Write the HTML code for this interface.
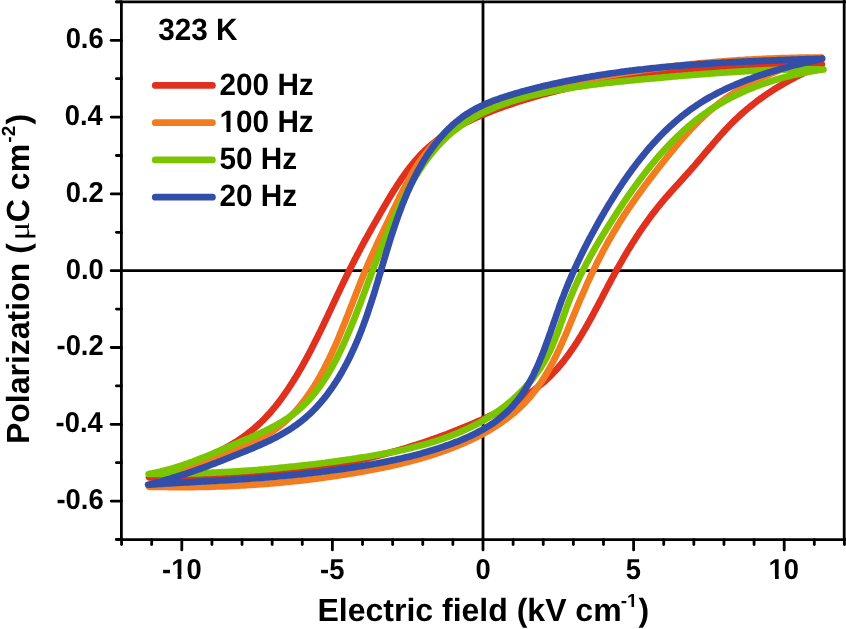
<!DOCTYPE html>
<html><head><meta charset="utf-8"><style>
html,body{margin:0;padding:0;background:#fff;}
body{width:846px;height:629px;overflow:hidden;}
svg{display:block;will-change:transform;font-family:"Liberation Sans",sans-serif;font-weight:bold;text-rendering:geometricPrecision;}
</style></head><body>
<svg width="846" height="629" viewBox="0 0 846 629">
<rect width="846" height="629" fill="#fff"/>
<g stroke="#000" stroke-width="2.8" stroke-linecap="round" fill="none">
<line x1="116.56" y1="1.90" x2="848" y2="1.90"/>
<line x1="121.4" y1="1.90" x2="121.4" y2="539.6"/>
<line x1="116.56" y1="539.6" x2="848" y2="539.6"/>
<line x1="844.2" y1="-2" x2="844.2" y2="539.6"/>
<line x1="121.4" y1="270.7" x2="844" y2="270.7"/>
<line x1="483.0" y1="1.90" x2="483.0" y2="539.6"/>
<line x1="116.40" y1="539.50" x2="121.4" y2="539.50"/>
<line x1="111.20" y1="501.10" x2="121.4" y2="501.10"/>
<line x1="116.40" y1="462.70" x2="121.4" y2="462.70"/>
<line x1="111.20" y1="424.30" x2="121.4" y2="424.30"/>
<line x1="116.40" y1="385.90" x2="121.4" y2="385.90"/>
<line x1="111.20" y1="347.50" x2="121.4" y2="347.50"/>
<line x1="116.40" y1="309.10" x2="121.4" y2="309.10"/>
<line x1="111.20" y1="270.70" x2="121.4" y2="270.70"/>
<line x1="116.40" y1="232.30" x2="121.4" y2="232.30"/>
<line x1="111.20" y1="193.90" x2="121.4" y2="193.90"/>
<line x1="116.40" y1="155.50" x2="121.4" y2="155.50"/>
<line x1="111.20" y1="117.10" x2="121.4" y2="117.10"/>
<line x1="116.40" y1="78.70" x2="121.4" y2="78.70"/>
<line x1="111.20" y1="40.30" x2="121.4" y2="40.30"/>
<line x1="116.40" y1="1.90" x2="121.4" y2="1.90"/>
<line x1="121.56" y1="539.6" x2="121.56" y2="544.60"/>
<line x1="151.68" y1="539.6" x2="151.68" y2="544.60"/>
<line x1="181.80" y1="539.6" x2="181.80" y2="549.90"/>
<line x1="211.92" y1="539.6" x2="211.92" y2="544.60"/>
<line x1="242.04" y1="539.6" x2="242.04" y2="544.60"/>
<line x1="272.16" y1="539.6" x2="272.16" y2="544.60"/>
<line x1="302.28" y1="539.6" x2="302.28" y2="544.60"/>
<line x1="332.40" y1="539.6" x2="332.40" y2="549.90"/>
<line x1="362.52" y1="539.6" x2="362.52" y2="544.60"/>
<line x1="392.64" y1="539.6" x2="392.64" y2="544.60"/>
<line x1="422.76" y1="539.6" x2="422.76" y2="544.60"/>
<line x1="452.88" y1="539.6" x2="452.88" y2="544.60"/>
<line x1="483.00" y1="539.6" x2="483.00" y2="549.90"/>
<line x1="513.12" y1="539.6" x2="513.12" y2="544.60"/>
<line x1="543.24" y1="539.6" x2="543.24" y2="544.60"/>
<line x1="573.36" y1="539.6" x2="573.36" y2="544.60"/>
<line x1="603.48" y1="539.6" x2="603.48" y2="544.60"/>
<line x1="633.60" y1="539.6" x2="633.60" y2="549.90"/>
<line x1="663.72" y1="539.6" x2="663.72" y2="544.60"/>
<line x1="693.84" y1="539.6" x2="693.84" y2="544.60"/>
<line x1="723.96" y1="539.6" x2="723.96" y2="544.60"/>
<line x1="754.08" y1="539.6" x2="754.08" y2="544.60"/>
<line x1="784.20" y1="539.6" x2="784.20" y2="549.90"/>
<line x1="814.32" y1="539.6" x2="814.32" y2="544.60"/>
<line x1="844.44" y1="539.6" x2="844.44" y2="544.60"/>
</g>
<path d="M821.8 64.3 L819.8 64.3 L817.8 64.3 L815.8 64.4 L813.8 64.4 L811.8 64.4 L809.8 64.4 L807.8 64.5 L805.8 64.5 L803.8 64.5 L801.9 64.6 L799.9 64.6 L797.9 64.6 L795.9 64.7 L793.9 64.7 L791.9 64.8 L789.9 64.8 L787.9 64.8 L785.9 64.9 L783.9 64.9 L781.9 65.0 L779.9 65.0 L777.9 65.1 L775.9 65.2 L773.9 65.2 L771.9 65.3 L769.9 65.3 L767.9 65.4 L765.9 65.5 L763.9 65.5 L761.9 65.6 L759.9 65.7 L757.9 65.7 L755.9 65.8 L753.9 65.9 L751.9 66.0 L749.9 66.1 L747.9 66.1 L746.0 66.2 L744.0 66.3 L742.0 66.4 L740.0 66.5 L738.0 66.6 L736.0 66.7 L734.0 66.8 L732.0 66.9 L730.0 67.0 L728.0 67.1 L726.0 67.3 L724.0 67.4 L722.0 67.5 L720.0 67.6 L718.0 67.7 L716.0 67.9 L714.0 68.0 L712.0 68.1 L710.1 68.3 L708.1 68.4 L706.1 68.6 L704.1 68.7 L702.1 68.9 L700.1 69.0 L698.1 69.2 L696.1 69.3 L694.1 69.5 L692.1 69.7 L690.1 69.8 L688.2 70.0 L686.2 70.2 L684.2 70.4 L682.2 70.5 L680.2 70.7 L678.2 70.9 L676.2 71.1 L674.2 71.3 L672.3 71.5 L670.3 71.7 L668.3 71.9 L666.3 72.1 L664.3 72.4 L662.3 72.6 L660.4 72.8 L658.4 73.0 L656.4 73.3 L654.4 73.5 L652.4 73.7 L650.5 74.0 L648.5 74.2 L646.5 74.5 L644.5 74.7 L642.5 75.0 L640.6 75.3 L638.6 75.5 L636.6 75.8 L634.6 76.1 L632.7 76.3 L630.7 76.6 L628.7 76.9 L626.7 77.2 L624.8 77.5 L622.8 77.8 L620.8 78.1 L618.9 78.4 L616.9 78.7 L614.9 79.1 L613.0 79.4 L611.0 79.7 L609.0 80.1 L607.1 80.4 L605.1 80.7 L603.1 81.1 L601.2 81.4 L599.2 81.8 L597.2 82.2 L595.3 82.5 L593.3 82.9 L591.4 83.3 L589.4 83.7 L587.4 84.1 L585.5 84.4 L583.5 84.8 L581.6 85.2 L579.6 85.7 L577.7 86.1 L575.7 86.5 L573.8 86.9 L571.8 87.3 L569.9 87.8 L567.9 88.2 L566.0 88.7 L564.0 89.1 L562.1 89.6 L560.1 90.1 L558.2 90.5 L556.3 91.0 L554.3 91.5 L552.4 92.0 L550.5 92.5 L548.5 93.0 L546.6 93.5 L544.7 94.0 L542.7 94.5 L540.8 95.0 L538.9 95.6 L537.0 96.1 L535.0 96.7 L533.1 97.2 L531.2 97.8 L529.3 98.4 L527.4 98.9 L525.4 99.5 L523.5 100.1 L521.6 100.7 L519.7 101.3 L517.8 101.9 L515.9 102.5 L514.0 103.2 L512.1 103.8 L510.2 104.5 L508.3 105.1 L506.4 105.8 L504.5 106.4 L502.6 107.1 L500.7 107.8 L498.9 108.5 L497.0 109.2 L495.1 109.9 L493.2 110.6 L491.3 111.3 L489.5 112.1 L487.6 112.8 L485.7 113.6 L483.9 114.3 L482.0 115.1 L480.2 115.9 L478.4 116.7 L476.5 117.5 L474.7 118.3 L472.9 119.2 L471.1 120.0 L469.3 120.9 L467.5 121.7 L465.7 122.6 L463.9 123.5 L462.2 124.4 L460.4 125.4 L458.7 126.3 L457.0 127.3 L455.2 128.3 L453.5 129.3 L451.8 130.3 L450.1 131.3 L448.5 132.3 L446.8 133.4 L445.2 134.5 L443.5 135.6 L441.9 136.7 L440.3 137.8 L438.7 139.0 L437.2 140.2 L435.6 141.4 L434.1 142.6 L432.6 143.8 L431.1 145.1 L429.6 146.3 L428.1 147.6 L426.7 148.9 L425.2 150.3 L423.8 151.6 L422.4 153.0 L421.1 154.4 L419.7 155.9 L418.4 157.3 L417.0 158.8 L415.7 160.2 L414.5 161.7 L413.2 163.3 L411.9 164.8 L410.7 166.3 L409.4 167.9 L408.2 169.5 L407.0 171.1 L405.8 172.7 L404.7 174.3 L403.5 175.9 L402.3 177.6 L401.2 179.2 L400.1 180.9 L399.0 182.6 L397.8 184.3 L396.7 186.0 L395.7 187.7 L394.6 189.4 L393.5 191.1 L392.4 192.8 L391.4 194.5 L390.3 196.3 L389.3 198.0 L388.2 199.7 L387.2 201.5 L386.2 203.2 L385.1 205.0 L384.1 206.7 L383.1 208.5 L382.1 210.2 L381.1 211.9 L380.1 213.7 L379.1 215.4 L378.1 217.2 L377.1 218.9 L376.1 220.7 L375.1 222.4 L374.1 224.1 L373.1 225.9 L372.1 227.6 L371.1 229.4 L370.2 231.1 L369.2 232.9 L368.2 234.6 L367.3 236.3 L366.3 238.1 L365.3 239.8 L364.4 241.6 L363.4 243.3 L362.5 245.1 L361.5 246.8 L360.6 248.6 L359.7 250.4 L358.7 252.1 L357.8 253.9 L356.9 255.6 L356.0 257.4 L355.0 259.2 L354.1 260.9 L353.2 262.7 L352.3 264.5 L351.4 266.3 L350.5 268.0 L349.6 269.8 L348.7 271.6 L347.8 273.4 L346.9 275.2 L346.1 277.0 L345.2 278.8 L344.3 280.6 L343.4 282.4 L342.6 284.2 L341.7 286.0 L340.8 287.9 L340.0 289.7 L339.1 291.5 L338.3 293.3 L337.4 295.1 L336.5 296.9 L335.7 298.8 L334.8 300.6 L334.0 302.4 L333.1 304.2 L332.3 306.0 L331.4 307.9 L330.6 309.7 L329.7 311.5 L328.8 313.3 L328.0 315.1 L327.1 317.0 L326.3 318.8 L325.4 320.6 L324.5 322.4 L323.7 324.2 L322.8 326.1 L321.9 327.9 L321.1 329.7 L320.2 331.5 L319.3 333.3 L318.4 335.1 L317.5 336.9 L316.6 338.7 L315.7 340.5 L314.8 342.3 L313.9 344.1 L313.0 345.9 L312.1 347.6 L311.2 349.4 L310.3 351.2 L309.3 353.0 L308.4 354.7 L307.5 356.5 L306.5 358.3 L305.6 360.0 L304.6 361.8 L303.6 363.5 L302.7 365.2 L301.7 367.0 L300.7 368.7 L299.7 370.4 L298.7 372.1 L297.7 373.8 L296.7 375.6 L295.6 377.3 L294.6 378.9 L293.5 380.6 L292.5 382.3 L291.4 384.0 L290.3 385.6 L289.2 387.3 L288.2 388.9 L287.0 390.6 L285.9 392.2 L284.8 393.8 L283.7 395.5 L282.5 397.1 L281.3 398.7 L280.2 400.2 L279.0 401.8 L277.8 403.4 L276.6 404.9 L275.3 406.5 L274.1 408.0 L272.8 409.5 L271.6 411.0 L270.3 412.5 L269.0 413.9 L267.6 415.4 L266.3 416.8 L264.9 418.3 L263.6 419.7 L262.2 421.0 L260.8 422.4 L259.3 423.8 L257.9 425.1 L256.4 426.4 L254.9 427.7 L253.4 429.0 L251.9 430.2 L250.4 431.5 L248.8 432.7 L247.3 433.9 L245.7 435.1 L244.1 436.3 L242.5 437.4 L240.9 438.5 L239.2 439.7 L237.6 440.8 L235.9 441.8 L234.2 442.9 L232.5 444.0 L230.8 445.0 L229.1 446.0 L227.3 447.0 L225.6 448.0 L223.8 448.9 L222.0 449.9 L220.3 450.8 L218.5 451.8 L216.7 452.7 L214.8 453.5 L213.0 454.4 L211.2 455.3 L209.3 456.1 L207.5 457.0 L205.7 457.8 L203.8 458.6 L201.9 459.4 L200.1 460.2 L198.2 460.9 L196.3 461.7 L194.4 462.4 L192.5 463.2 L190.6 463.9 L188.7 464.6 L186.8 465.3 L184.9 466.0 L183.0 466.7 L181.1 467.3 L179.2 468.0 L177.3 468.6 L175.4 469.3 L173.5 469.9 L171.6 470.5 L169.7 471.1 L167.8 471.7 L165.9 472.3 L164.0 472.9 L162.1 473.5 L160.2 474.0 L158.3 474.6 L156.5 475.2 L154.6 475.7 L152.7 476.2 L150.9 476.8 L149.0 477.3 L149.0 477.3 L151.0 477.3 L153.0 477.4 L154.9 477.4 L156.9 477.5 L158.9 477.5 L160.9 477.5 L162.9 477.5 L164.9 477.6 L166.9 477.6 L168.9 477.6 L170.8 477.6 L172.8 477.6 L174.8 477.6 L176.8 477.6 L178.8 477.6 L180.8 477.6 L182.8 477.6 L184.8 477.6 L186.8 477.6 L188.8 477.6 L190.8 477.5 L192.8 477.5 L194.8 477.5 L196.8 477.5 L198.8 477.4 L200.8 477.4 L202.8 477.4 L204.7 477.3 L206.7 477.3 L208.7 477.2 L210.7 477.1 L212.7 477.1 L214.7 477.0 L216.7 477.0 L218.7 476.9 L220.7 476.8 L222.7 476.7 L224.7 476.7 L226.7 476.6 L228.7 476.5 L230.7 476.4 L232.7 476.3 L234.7 476.2 L236.7 476.1 L238.7 476.0 L240.7 475.8 L242.7 475.7 L244.7 475.6 L246.7 475.5 L248.7 475.3 L250.7 475.2 L252.7 475.1 L254.7 474.9 L256.7 474.8 L258.7 474.6 L260.7 474.5 L262.7 474.3 L264.7 474.1 L266.7 474.0 L268.7 473.8 L270.6 473.6 L272.6 473.4 L274.6 473.2 L276.6 473.0 L278.6 472.8 L280.6 472.6 L282.6 472.4 L284.6 472.2 L286.6 472.0 L288.5 471.7 L290.5 471.5 L292.5 471.3 L294.5 471.0 L296.5 470.8 L298.5 470.6 L300.4 470.3 L302.4 470.0 L304.4 469.8 L306.4 469.5 L308.4 469.2 L310.3 469.0 L312.3 468.7 L314.3 468.4 L316.3 468.1 L318.2 467.8 L320.2 467.5 L322.2 467.2 L324.1 466.8 L326.1 466.5 L328.1 466.2 L330.0 465.9 L332.0 465.5 L334.0 465.2 L335.9 464.8 L337.9 464.5 L339.8 464.1 L341.8 463.7 L343.8 463.4 L345.7 463.0 L347.7 462.6 L349.6 462.2 L351.6 461.8 L353.5 461.4 L355.5 461.0 L357.4 460.6 L359.3 460.2 L361.3 459.7 L363.2 459.3 L365.2 458.9 L367.1 458.4 L369.0 458.0 L371.0 457.5 L372.9 457.0 L374.8 456.6 L376.8 456.1 L378.7 455.6 L380.6 455.1 L382.5 454.6 L384.5 454.1 L386.4 453.6 L388.3 453.1 L390.2 452.6 L392.1 452.0 L394.0 451.5 L395.9 451.0 L397.8 450.4 L399.7 449.9 L401.6 449.3 L403.6 448.8 L405.5 448.2 L407.4 447.6 L409.2 447.0 L411.1 446.4 L413.0 445.8 L414.9 445.2 L416.8 444.6 L418.7 444.0 L420.6 443.4 L422.5 442.8 L424.4 442.1 L426.3 441.5 L428.1 440.8 L430.0 440.2 L431.9 439.5 L433.8 438.9 L435.7 438.2 L437.5 437.5 L439.4 436.8 L441.3 436.2 L443.2 435.5 L445.0 434.8 L446.9 434.1 L448.8 433.3 L450.6 432.6 L452.5 431.9 L454.4 431.2 L456.2 430.4 L458.1 429.7 L460.0 428.9 L461.8 428.2 L463.7 427.4 L465.5 426.7 L467.4 425.9 L469.3 425.1 L471.1 424.3 L473.0 423.5 L474.8 422.7 L476.7 421.9 L478.5 421.1 L480.4 420.3 L482.2 419.5 L484.1 418.7 L485.9 417.8 L487.7 417.0 L489.6 416.1 L491.4 415.2 L493.2 414.4 L495.0 413.5 L496.8 412.6 L498.6 411.7 L500.4 410.8 L502.2 409.8 L504.0 408.9 L505.8 408.0 L507.5 407.0 L509.3 406.0 L511.0 405.0 L512.8 404.0 L514.5 403.0 L516.2 402.0 L517.9 401.0 L519.6 399.9 L521.3 398.9 L522.9 397.8 L524.6 396.7 L526.2 395.6 L527.9 394.5 L529.5 393.4 L531.1 392.2 L532.7 391.1 L534.3 389.9 L535.8 388.7 L537.4 387.5 L538.9 386.2 L540.4 385.0 L541.9 383.7 L543.4 382.5 L544.8 381.2 L546.3 379.8 L547.7 378.5 L549.1 377.2 L550.5 375.8 L551.9 374.4 L553.2 373.0 L554.6 371.6 L555.9 370.1 L557.2 368.7 L558.5 367.2 L559.7 365.7 L561.0 364.2 L562.2 362.7 L563.5 361.2 L564.7 359.6 L565.9 358.0 L567.1 356.5 L568.2 354.9 L569.4 353.3 L570.5 351.7 L571.7 350.0 L572.8 348.4 L573.9 346.8 L575.0 345.1 L576.1 343.4 L577.2 341.8 L578.2 340.1 L579.3 338.4 L580.3 336.7 L581.4 335.0 L582.4 333.2 L583.4 331.5 L584.5 329.8 L585.5 328.0 L586.5 326.3 L587.5 324.5 L588.5 322.8 L589.4 321.0 L590.4 319.2 L591.4 317.5 L592.4 315.7 L593.3 313.9 L594.3 312.1 L595.2 310.3 L596.2 308.5 L597.1 306.8 L598.1 305.0 L599.0 303.2 L600.0 301.4 L600.9 299.6 L601.9 297.8 L602.8 296.0 L603.7 294.2 L604.7 292.4 L605.6 290.6 L606.6 288.8 L607.5 287.0 L608.4 285.2 L609.4 283.5 L610.3 281.7 L611.3 279.9 L612.2 278.1 L613.2 276.4 L614.2 274.6 L615.1 272.8 L616.1 271.1 L617.0 269.3 L618.0 267.6 L619.0 265.9 L620.0 264.1 L621.0 262.4 L622.0 260.7 L622.9 259.0 L623.9 257.2 L625.0 255.5 L626.0 253.8 L627.0 252.1 L628.0 250.4 L629.0 248.7 L630.1 247.0 L631.1 245.4 L632.1 243.7 L633.2 242.0 L634.3 240.4 L635.3 238.7 L636.4 237.0 L637.5 235.4 L638.6 233.7 L639.6 232.1 L640.8 230.5 L641.9 228.8 L643.0 227.2 L644.1 225.6 L645.2 224.0 L646.4 222.4 L647.5 220.8 L648.7 219.2 L649.9 217.6 L651.0 216.0 L652.2 214.4 L653.4 212.9 L654.6 211.3 L655.8 209.8 L657.1 208.2 L658.3 206.7 L659.6 205.1 L660.8 203.6 L662.1 202.0 L663.4 200.5 L664.6 199.0 L665.9 197.5 L667.3 196.0 L668.6 194.5 L669.9 193.0 L671.2 191.5 L672.6 190.0 L673.9 188.5 L675.3 187.0 L676.6 185.6 L678.0 184.1 L679.3 182.6 L680.7 181.1 L682.0 179.6 L683.4 178.1 L684.7 176.6 L686.1 175.1 L687.4 173.6 L688.8 172.1 L690.1 170.6 L691.4 169.1 L692.8 167.6 L694.1 166.1 L695.4 164.6 L696.7 163.0 L698.0 161.5 L699.3 160.0 L700.6 158.4 L701.9 156.9 L703.2 155.4 L704.5 153.8 L705.8 152.3 L707.1 150.8 L708.4 149.2 L709.7 147.7 L711.0 146.2 L712.3 144.7 L713.6 143.1 L714.9 141.6 L716.2 140.1 L717.5 138.6 L718.9 137.1 L720.2 135.6 L721.5 134.1 L722.9 132.7 L724.2 131.2 L725.5 129.7 L726.9 128.3 L728.3 126.9 L729.6 125.4 L731.0 124.0 L732.4 122.6 L733.8 121.2 L735.2 119.8 L736.7 118.5 L738.1 117.1 L739.6 115.8 L741.0 114.4 L742.5 113.1 L744.0 111.8 L745.5 110.5 L747.0 109.2 L748.5 108.0 L750.0 106.7 L751.6 105.5 L753.1 104.3 L754.7 103.0 L756.2 101.8 L757.8 100.6 L759.4 99.5 L761.0 98.3 L762.6 97.2 L764.2 96.0 L765.8 94.9 L767.5 93.8 L769.1 92.7 L770.8 91.6 L772.4 90.5 L774.1 89.4 L775.8 88.4 L777.5 87.3 L779.2 86.3 L780.9 85.3 L782.6 84.3 L784.3 83.3 L786.1 82.3 L787.8 81.3 L789.5 80.3 L791.3 79.4 L793.1 78.5 L794.8 77.5 L796.6 76.6 L798.4 75.7 L800.2 74.8 L802.0 73.9 L803.8 73.0 L805.6 72.1 L807.4 71.2 L809.2 70.4 L811.0 69.5 L812.8 68.6 L814.6 67.8 L816.4 66.9 L818.2 66.0 L820.0 65.2 L821.8 64.3" fill="none" stroke="#e0301e" stroke-width="6.7" stroke-linecap="round" stroke-linejoin="round"/>
<path d="M821.4 57.5 L819.4 57.5 L817.3 57.5 L815.3 57.5 L813.2 57.5 L811.2 57.6 L809.1 57.6 L807.1 57.6 L805.1 57.6 L803.0 57.7 L801.0 57.7 L799.0 57.7 L797.0 57.8 L794.9 57.8 L792.9 57.9 L790.9 57.9 L788.9 58.0 L786.9 58.0 L784.8 58.1 L782.8 58.1 L780.8 58.2 L778.8 58.3 L776.8 58.3 L774.8 58.4 L772.8 58.5 L770.8 58.6 L768.8 58.6 L766.8 58.7 L764.8 58.8 L762.8 58.9 L760.8 59.0 L758.8 59.1 L756.8 59.2 L754.8 59.3 L752.8 59.4 L750.8 59.5 L748.8 59.6 L746.8 59.7 L744.9 59.8 L742.9 60.0 L740.9 60.1 L738.9 60.2 L736.9 60.3 L734.9 60.5 L733.0 60.6 L731.0 60.8 L729.0 60.9 L727.0 61.0 L725.1 61.2 L723.1 61.3 L721.1 61.5 L719.1 61.6 L717.2 61.8 L715.2 62.0 L713.2 62.1 L711.2 62.3 L709.3 62.5 L707.3 62.7 L705.3 62.8 L703.4 63.0 L701.4 63.2 L699.4 63.4 L697.5 63.6 L695.5 63.8 L693.5 64.0 L691.6 64.2 L689.6 64.4 L687.6 64.6 L685.7 64.8 L683.7 65.0 L681.7 65.3 L679.8 65.5 L677.8 65.7 L675.9 65.9 L673.9 66.2 L671.9 66.4 L670.0 66.6 L668.0 66.9 L666.0 67.1 L664.1 67.4 L662.1 67.6 L660.2 67.9 L658.2 68.1 L656.2 68.4 L654.3 68.7 L652.3 68.9 L650.3 69.2 L648.4 69.5 L646.4 69.7 L644.5 70.0 L642.5 70.3 L640.5 70.6 L638.6 70.9 L636.6 71.2 L634.6 71.5 L632.7 71.8 L630.7 72.1 L628.7 72.4 L626.8 72.7 L624.8 73.0 L622.8 73.3 L620.9 73.7 L618.9 74.0 L616.9 74.3 L615.0 74.7 L613.0 75.0 L611.0 75.3 L609.0 75.7 L607.1 76.0 L605.1 76.4 L603.1 76.7 L601.1 77.1 L599.2 77.4 L597.2 77.8 L595.2 78.2 L593.2 78.5 L591.3 78.9 L589.3 79.3 L587.3 79.7 L585.3 80.1 L583.3 80.4 L581.3 80.8 L579.3 81.2 L577.4 81.6 L575.4 82.0 L573.4 82.4 L571.4 82.8 L569.4 83.3 L567.4 83.7 L565.4 84.1 L563.4 84.5 L561.4 85.0 L559.4 85.4 L557.4 85.8 L555.4 86.3 L553.4 86.7 L551.5 87.2 L549.5 87.7 L547.5 88.1 L545.5 88.6 L543.5 89.1 L541.5 89.6 L539.6 90.1 L537.6 90.6 L535.6 91.1 L533.7 91.7 L531.7 92.2 L529.7 92.7 L527.8 93.3 L525.8 93.8 L523.9 94.4 L521.9 95.0 L520.0 95.6 L518.1 96.2 L516.2 96.8 L514.2 97.4 L512.3 98.0 L510.4 98.7 L508.5 99.3 L506.6 100.0 L504.7 100.7 L502.9 101.4 L501.0 102.1 L499.1 102.8 L497.3 103.5 L495.4 104.3 L493.6 105.0 L491.8 105.8 L489.9 106.5 L488.1 107.3 L486.3 108.1 L484.5 109.0 L482.8 109.8 L481.0 110.7 L479.2 111.5 L477.5 112.4 L475.7 113.3 L474.0 114.2 L472.3 115.1 L470.6 116.1 L468.9 117.0 L467.2 118.0 L465.5 119.0 L463.9 120.0 L462.2 121.0 L460.6 122.1 L459.0 123.2 L457.4 124.2 L455.8 125.3 L454.2 126.4 L452.7 127.6 L451.1 128.7 L449.6 129.9 L448.1 131.1 L446.6 132.3 L445.1 133.6 L443.6 134.8 L442.1 136.1 L440.7 137.4 L439.3 138.7 L437.9 140.0 L436.5 141.4 L435.1 142.8 L433.8 144.2 L432.4 145.6 L431.1 147.0 L429.8 148.5 L428.5 150.0 L427.3 151.5 L426.0 153.0 L424.8 154.6 L423.6 156.2 L422.4 157.8 L421.2 159.4 L420.1 161.1 L418.9 162.7 L417.8 164.4 L416.7 166.1 L415.6 167.8 L414.5 169.6 L413.5 171.3 L412.4 173.1 L411.4 174.8 L410.4 176.6 L409.4 178.4 L408.4 180.2 L407.4 182.1 L406.4 183.9 L405.4 185.7 L404.5 187.5 L403.5 189.4 L402.6 191.2 L401.7 193.1 L400.7 194.9 L399.8 196.8 L398.9 198.7 L398.0 200.5 L397.1 202.4 L396.2 204.2 L395.3 206.1 L394.4 207.9 L393.5 209.8 L392.6 211.6 L391.8 213.4 L390.9 215.2 L390.0 217.1 L389.1 218.9 L388.3 220.7 L387.4 222.5 L386.5 224.3 L385.7 226.1 L384.8 227.9 L384.0 229.7 L383.1 231.4 L382.2 233.2 L381.4 235.0 L380.6 236.8 L379.7 238.6 L378.9 240.3 L378.0 242.1 L377.2 243.9 L376.4 245.7 L375.6 247.4 L374.7 249.2 L373.9 251.0 L373.1 252.8 L372.3 254.6 L371.5 256.4 L370.7 258.1 L369.9 259.9 L369.1 261.7 L368.3 263.5 L367.6 265.3 L366.8 267.1 L366.0 269.0 L365.2 270.8 L364.5 272.6 L363.7 274.4 L363.0 276.3 L362.2 278.1 L361.5 279.9 L360.7 281.8 L360.0 283.6 L359.3 285.5 L358.5 287.3 L357.8 289.2 L357.1 291.1 L356.3 292.9 L355.6 294.8 L354.9 296.7 L354.1 298.6 L353.4 300.4 L352.7 302.3 L352.0 304.2 L351.2 306.1 L350.5 307.9 L349.8 309.8 L349.0 311.7 L348.3 313.6 L347.6 315.5 L346.8 317.4 L346.1 319.2 L345.4 321.1 L344.6 323.0 L343.9 324.9 L343.1 326.7 L342.3 328.6 L341.6 330.5 L340.8 332.4 L340.0 334.2 L339.3 336.1 L338.5 338.0 L337.7 339.8 L336.9 341.7 L336.1 343.5 L335.3 345.4 L334.5 347.2 L333.6 349.0 L332.8 350.9 L332.0 352.7 L331.1 354.5 L330.3 356.3 L329.4 358.2 L328.5 360.0 L327.6 361.8 L326.7 363.6 L325.8 365.3 L324.9 367.1 L324.0 368.9 L323.1 370.7 L322.1 372.4 L321.1 374.2 L320.2 375.9 L319.2 377.6 L318.2 379.4 L317.2 381.1 L316.2 382.8 L315.1 384.5 L314.1 386.2 L313.0 387.9 L311.9 389.5 L310.8 391.2 L309.7 392.8 L308.6 394.5 L307.5 396.1 L306.3 397.7 L305.1 399.3 L303.9 400.9 L302.7 402.4 L301.5 404.0 L300.3 405.5 L299.0 407.1 L297.8 408.6 L296.5 410.0 L295.2 411.5 L293.8 413.0 L292.5 414.4 L291.1 415.8 L289.7 417.2 L288.3 418.6 L286.9 419.9 L285.4 421.2 L284.0 422.5 L282.5 423.8 L281.0 425.0 L279.4 426.3 L277.9 427.5 L276.3 428.6 L274.7 429.8 L273.1 430.9 L271.4 432.0 L269.8 433.1 L268.1 434.1 L266.4 435.1 L264.6 436.1 L262.9 437.1 L261.1 438.1 L259.4 439.0 L257.6 439.9 L255.8 440.8 L254.0 441.7 L252.1 442.5 L250.3 443.4 L248.5 444.2 L246.6 445.1 L244.8 445.9 L242.9 446.7 L241.0 447.5 L239.2 448.3 L237.3 449.1 L235.4 449.8 L233.6 450.6 L231.7 451.4 L229.8 452.1 L227.9 452.9 L226.1 453.7 L224.2 454.4 L222.3 455.2 L220.5 456.0 L218.6 456.7 L216.8 457.5 L214.9 458.2 L213.1 459.0 L211.2 459.7 L209.4 460.5 L207.5 461.3 L205.7 462.0 L203.8 462.8 L202.0 463.5 L200.1 464.3 L198.3 465.1 L196.4 465.8 L194.6 466.6 L192.8 467.4 L190.9 468.1 L189.1 468.9 L187.3 469.7 L185.4 470.5 L183.6 471.2 L181.8 472.0 L180.0 472.8 L178.1 473.6 L176.3 474.4 L174.5 475.2 L172.7 476.0 L170.8 476.8 L169.0 477.6 L167.2 478.4 L165.4 479.2 L163.5 480.0 L161.7 480.8 L159.9 481.6 L158.1 482.5 L156.3 483.3 L154.5 484.1 L152.6 485.0 L150.8 485.8 L149.0 486.7 L149.0 486.7 L151.0 486.8 L153.0 486.8 L155.0 486.8 L157.0 486.9 L159.0 486.9 L161.0 487.0 L163.0 487.0 L165.0 487.0 L167.0 487.0 L169.0 487.1 L171.0 487.1 L173.0 487.1 L175.0 487.1 L177.0 487.1 L179.0 487.1 L181.0 487.1 L183.0 487.1 L185.0 487.1 L187.0 487.1 L189.0 487.1 L191.0 487.1 L192.9 487.1 L194.9 487.0 L196.9 487.0 L198.9 487.0 L200.9 486.9 L202.9 486.9 L204.9 486.9 L206.9 486.8 L208.9 486.8 L210.9 486.7 L212.9 486.7 L214.9 486.6 L216.9 486.5 L218.9 486.5 L220.9 486.4 L222.9 486.3 L224.8 486.3 L226.8 486.2 L228.8 486.1 L230.8 486.0 L232.8 485.9 L234.8 485.8 L236.8 485.7 L238.8 485.6 L240.8 485.5 L242.8 485.4 L244.7 485.3 L246.7 485.2 L248.7 485.0 L250.7 484.9 L252.7 484.8 L254.7 484.7 L256.7 484.5 L258.7 484.4 L260.6 484.2 L262.6 484.1 L264.6 483.9 L266.6 483.8 L268.6 483.6 L270.6 483.5 L272.6 483.3 L274.5 483.1 L276.5 482.9 L278.5 482.8 L280.5 482.6 L282.5 482.4 L284.5 482.2 L286.4 482.0 L288.4 481.8 L290.4 481.6 L292.4 481.4 L294.4 481.2 L296.3 481.0 L298.3 480.8 L300.3 480.6 L302.3 480.3 L304.3 480.1 L306.2 479.9 L308.2 479.6 L310.2 479.4 L312.2 479.1 L314.1 478.9 L316.1 478.6 L318.1 478.4 L320.1 478.1 L322.0 477.9 L324.0 477.6 L326.0 477.3 L328.0 477.0 L329.9 476.8 L331.9 476.5 L333.9 476.2 L335.8 475.9 L337.8 475.6 L339.8 475.3 L341.8 475.0 L343.7 474.7 L345.7 474.4 L347.7 474.0 L349.6 473.7 L351.6 473.4 L353.6 473.1 L355.5 472.7 L357.5 472.4 L359.5 472.1 L361.4 471.7 L363.4 471.4 L365.4 471.0 L367.3 470.6 L369.3 470.3 L371.2 469.9 L373.2 469.5 L375.2 469.2 L377.1 468.8 L379.1 468.4 L381.0 468.0 L383.0 467.6 L384.9 467.2 L386.9 466.8 L388.9 466.4 L390.8 465.9 L392.8 465.5 L394.7 465.1 L396.6 464.6 L398.6 464.2 L400.5 463.7 L402.5 463.2 L404.4 462.8 L406.4 462.3 L408.3 461.8 L410.2 461.3 L412.2 460.8 L414.1 460.3 L416.0 459.8 L417.9 459.2 L419.9 458.7 L421.8 458.1 L423.7 457.6 L425.6 457.0 L427.5 456.4 L429.4 455.8 L431.3 455.2 L433.2 454.6 L435.1 454.0 L437.0 453.4 L438.9 452.7 L440.8 452.1 L442.7 451.4 L444.6 450.8 L446.5 450.1 L448.4 449.4 L450.2 448.7 L452.1 448.0 L454.0 447.2 L455.8 446.5 L457.7 445.7 L459.6 444.9 L461.4 444.2 L463.2 443.4 L465.1 442.6 L466.9 441.7 L468.7 440.9 L470.6 440.1 L472.4 439.2 L474.2 438.3 L476.0 437.4 L477.8 436.5 L479.6 435.6 L481.3 434.7 L483.1 433.7 L484.8 432.8 L486.6 431.8 L488.3 430.8 L490.0 429.8 L491.7 428.8 L493.4 427.7 L495.1 426.7 L496.8 425.6 L498.4 424.5 L500.1 423.4 L501.7 422.3 L503.3 421.1 L504.9 420.0 L506.5 418.8 L508.1 417.6 L509.6 416.4 L511.2 415.2 L512.7 414.0 L514.2 412.7 L515.7 411.4 L517.1 410.1 L518.6 408.8 L520.0 407.5 L521.4 406.1 L522.8 404.8 L524.2 403.4 L525.5 402.0 L526.8 400.6 L528.1 399.1 L529.4 397.7 L530.7 396.2 L531.9 394.7 L533.1 393.2 L534.3 391.6 L535.5 390.1 L536.7 388.5 L537.8 386.9 L539.0 385.3 L540.1 383.7 L541.2 382.1 L542.2 380.5 L543.3 378.8 L544.4 377.1 L545.4 375.4 L546.4 373.8 L547.4 372.0 L548.4 370.3 L549.4 368.6 L550.3 366.8 L551.3 365.1 L552.2 363.3 L553.1 361.6 L554.0 359.8 L554.9 358.0 L555.8 356.2 L556.7 354.4 L557.6 352.6 L558.4 350.7 L559.3 348.9 L560.1 347.1 L561.0 345.2 L561.8 343.4 L562.6 341.5 L563.4 339.7 L564.3 337.8 L565.1 336.0 L565.9 334.1 L566.7 332.2 L567.5 330.3 L568.2 328.5 L569.0 326.6 L569.8 324.7 L570.6 322.8 L571.4 320.9 L572.1 319.1 L572.9 317.2 L573.7 315.3 L574.5 313.4 L575.2 311.6 L576.0 309.7 L576.8 307.8 L577.6 305.9 L578.3 304.1 L579.1 302.2 L579.9 300.3 L580.7 298.5 L581.5 296.6 L582.3 294.8 L583.1 293.0 L583.9 291.1 L584.7 289.3 L585.5 287.5 L586.3 285.7 L587.1 283.8 L587.9 282.0 L588.8 280.2 L589.6 278.4 L590.4 276.6 L591.3 274.8 L592.1 273.0 L593.0 271.2 L593.8 269.5 L594.7 267.7 L595.6 265.9 L596.4 264.1 L597.3 262.4 L598.2 260.6 L599.1 258.9 L600.0 257.1 L600.9 255.4 L601.8 253.6 L602.7 251.9 L603.6 250.1 L604.6 248.4 L605.5 246.7 L606.4 244.9 L607.4 243.2 L608.3 241.5 L609.3 239.8 L610.3 238.1 L611.3 236.4 L612.2 234.7 L613.2 233.0 L614.2 231.3 L615.3 229.6 L616.3 227.9 L617.3 226.2 L618.3 224.5 L619.4 222.8 L620.4 221.1 L621.5 219.5 L622.6 217.8 L623.6 216.1 L624.7 214.4 L625.8 212.8 L626.9 211.1 L628.0 209.5 L629.1 207.8 L630.3 206.2 L631.4 204.5 L632.5 202.9 L633.7 201.2 L634.8 199.6 L636.0 197.9 L637.1 196.3 L638.3 194.7 L639.5 193.0 L640.7 191.4 L641.9 189.8 L643.0 188.2 L644.2 186.6 L645.4 184.9 L646.7 183.3 L647.9 181.7 L649.1 180.1 L650.3 178.5 L651.5 176.9 L652.8 175.3 L654.0 173.7 L655.2 172.1 L656.5 170.5 L657.7 168.9 L658.9 167.4 L660.2 165.8 L661.4 164.2 L662.7 162.6 L664.0 161.0 L665.2 159.5 L666.5 157.9 L667.7 156.3 L669.0 154.8 L670.3 153.2 L671.5 151.7 L672.8 150.1 L674.1 148.6 L675.4 147.0 L676.6 145.5 L677.9 144.0 L679.2 142.4 L680.5 140.9 L681.8 139.4 L683.1 137.9 L684.5 136.4 L685.8 134.9 L687.1 133.4 L688.4 132.0 L689.8 130.5 L691.1 129.0 L692.5 127.6 L693.9 126.2 L695.2 124.7 L696.6 123.3 L698.0 121.9 L699.4 120.5 L700.8 119.1 L702.3 117.8 L703.7 116.4 L705.1 115.1 L706.6 113.8 L708.1 112.4 L709.5 111.1 L711.0 109.9 L712.5 108.6 L714.0 107.3 L715.6 106.1 L717.1 104.9 L718.6 103.7 L720.2 102.5 L721.8 101.3 L723.4 100.1 L725.0 99.0 L726.6 97.8 L728.2 96.7 L729.8 95.6 L731.5 94.5 L733.1 93.4 L734.8 92.4 L736.5 91.3 L738.1 90.3 L739.8 89.3 L741.5 88.3 L743.2 87.3 L745.0 86.3 L746.7 85.3 L748.4 84.4 L750.2 83.5 L751.9 82.5 L753.7 81.6 L755.5 80.7 L757.3 79.9 L759.1 79.0 L760.9 78.2 L762.7 77.3 L764.5 76.5 L766.3 75.7 L768.1 74.9 L770.0 74.1 L771.8 73.3 L773.7 72.6 L775.5 71.8 L777.4 71.1 L779.2 70.3 L781.1 69.6 L783.0 68.9 L784.9 68.3 L786.8 67.6 L788.6 66.9 L790.5 66.3 L792.4 65.6 L794.3 65.0 L796.3 64.4 L798.2 63.8 L800.1 63.2 L802.0 62.6 L803.9 62.1 L805.9 61.5 L807.8 61.0 L809.7 60.4 L811.7 59.9 L813.6 59.4 L815.6 58.9 L817.5 58.4 L819.5 58.0 L821.4 57.5" fill="none" stroke="#f27c20" stroke-width="6.7" stroke-linecap="round" stroke-linejoin="round"/>
<path d="M823.4 69.5 L821.4 69.5 L819.4 69.4 L817.4 69.4 L815.4 69.4 L813.5 69.4 L811.5 69.4 L809.5 69.3 L807.5 69.3 L805.5 69.3 L803.5 69.3 L801.5 69.4 L799.5 69.4 L797.5 69.4 L795.5 69.4 L793.5 69.4 L791.5 69.5 L789.5 69.5 L787.5 69.5 L785.5 69.6 L783.5 69.6 L781.5 69.7 L779.5 69.7 L777.5 69.8 L775.5 69.9 L773.5 69.9 L771.5 70.0 L769.5 70.1 L767.5 70.2 L765.5 70.2 L763.5 70.3 L761.5 70.4 L759.5 70.5 L757.5 70.6 L755.5 70.7 L753.5 70.8 L751.5 70.9 L749.5 71.0 L747.5 71.1 L745.5 71.2 L743.5 71.3 L741.5 71.4 L739.5 71.6 L737.5 71.7 L735.5 71.8 L733.5 71.9 L731.5 72.1 L729.5 72.2 L727.5 72.3 L725.5 72.5 L723.5 72.6 L721.5 72.7 L719.5 72.9 L717.5 73.0 L715.5 73.2 L713.5 73.3 L711.5 73.5 L709.5 73.6 L707.5 73.8 L705.5 73.9 L703.5 74.1 L701.5 74.2 L699.5 74.4 L697.5 74.5 L695.5 74.7 L693.5 74.9 L691.5 75.0 L689.5 75.2 L687.5 75.4 L685.5 75.5 L683.5 75.7 L681.5 75.9 L679.5 76.0 L677.5 76.2 L675.6 76.4 L673.6 76.5 L671.6 76.7 L669.6 76.9 L667.6 77.1 L665.6 77.2 L663.6 77.4 L661.6 77.6 L659.7 77.8 L657.7 77.9 L655.7 78.1 L653.7 78.3 L651.7 78.5 L649.7 78.6 L647.8 78.8 L645.8 79.0 L643.8 79.2 L641.8 79.4 L639.8 79.5 L637.9 79.7 L635.9 79.9 L633.9 80.1 L631.9 80.3 L630.0 80.5 L628.0 80.7 L626.0 80.9 L624.0 81.1 L622.0 81.3 L620.1 81.5 L618.1 81.7 L616.1 81.9 L614.1 82.2 L612.2 82.4 L610.2 82.6 L608.2 82.8 L606.2 83.0 L604.3 83.3 L602.3 83.5 L600.3 83.8 L598.3 84.0 L596.3 84.3 L594.4 84.5 L592.4 84.8 L590.4 85.0 L588.4 85.3 L586.4 85.6 L584.5 85.8 L582.5 86.1 L580.5 86.4 L578.5 86.7 L576.5 87.0 L574.5 87.3 L572.5 87.6 L570.6 87.9 L568.6 88.2 L566.6 88.6 L564.6 88.9 L562.6 89.2 L560.6 89.6 L558.6 89.9 L556.7 90.3 L554.7 90.7 L552.7 91.0 L550.7 91.4 L548.7 91.8 L546.8 92.2 L544.8 92.6 L542.8 93.1 L540.8 93.5 L538.9 93.9 L536.9 94.4 L535.0 94.9 L533.0 95.3 L531.0 95.8 L529.1 96.3 L527.2 96.8 L525.2 97.3 L523.3 97.9 L521.4 98.4 L519.4 99.0 L517.5 99.5 L515.6 100.1 L513.7 100.7 L511.8 101.3 L509.9 101.9 L508.0 102.6 L506.1 103.2 L504.3 103.9 L502.4 104.6 L500.5 105.3 L498.7 106.0 L496.8 106.7 L495.0 107.4 L493.2 108.2 L491.4 109.0 L489.6 109.8 L487.8 110.6 L486.0 111.4 L484.2 112.2 L482.4 113.1 L480.6 114.0 L478.9 114.9 L477.2 115.8 L475.4 116.7 L473.7 117.7 L472.0 118.7 L470.3 119.7 L468.6 120.7 L467.0 121.7 L465.3 122.8 L463.7 123.8 L462.0 124.9 L460.4 126.1 L458.8 127.2 L457.3 128.4 L455.7 129.5 L454.1 130.7 L452.6 132.0 L451.1 133.2 L449.6 134.5 L448.1 135.8 L446.7 137.1 L445.3 138.5 L443.8 139.9 L442.4 141.2 L441.1 142.7 L439.7 144.1 L438.3 145.5 L437.0 147.0 L435.7 148.5 L434.4 150.0 L433.1 151.6 L431.9 153.1 L430.6 154.7 L429.4 156.2 L428.2 157.8 L427.0 159.4 L425.8 161.1 L424.6 162.7 L423.4 164.3 L422.3 166.0 L421.2 167.7 L420.0 169.4 L418.9 171.0 L417.8 172.8 L416.8 174.5 L415.7 176.2 L414.7 177.9 L413.6 179.7 L412.6 181.4 L411.6 183.1 L410.6 184.9 L409.6 186.7 L408.6 188.4 L407.6 190.2 L406.7 192.0 L405.7 193.7 L404.8 195.5 L403.9 197.3 L403.0 199.1 L402.1 200.9 L401.2 202.7 L400.3 204.5 L399.4 206.3 L398.5 208.1 L397.7 209.9 L396.8 211.7 L396.0 213.5 L395.1 215.3 L394.3 217.1 L393.5 218.9 L392.7 220.8 L391.9 222.6 L391.1 224.4 L390.3 226.2 L389.5 228.0 L388.7 229.9 L387.9 231.7 L387.2 233.5 L386.4 235.4 L385.6 237.2 L384.9 239.1 L384.1 240.9 L383.4 242.7 L382.6 244.6 L381.9 246.4 L381.2 248.3 L380.5 250.1 L379.7 252.0 L379.0 253.8 L378.3 255.7 L377.6 257.6 L376.9 259.4 L376.2 261.3 L375.4 263.1 L374.7 265.0 L374.0 266.9 L373.3 268.7 L372.6 270.6 L371.9 272.4 L371.2 274.3 L370.5 276.2 L369.8 278.0 L369.1 279.9 L368.4 281.8 L367.7 283.7 L367.0 285.5 L366.3 287.4 L365.6 289.3 L364.9 291.1 L364.2 293.0 L363.5 294.9 L362.8 296.7 L362.1 298.6 L361.4 300.5 L360.7 302.4 L360.0 304.2 L359.2 306.1 L358.5 308.0 L357.8 309.8 L357.1 311.7 L356.3 313.6 L355.6 315.5 L354.9 317.3 L354.1 319.2 L353.4 321.1 L352.6 322.9 L351.8 324.8 L351.1 326.7 L350.3 328.5 L349.5 330.4 L348.7 332.3 L347.9 334.1 L347.1 336.0 L346.3 337.8 L345.5 339.7 L344.7 341.5 L343.9 343.4 L343.0 345.2 L342.2 347.1 L341.3 348.9 L340.5 350.7 L339.6 352.5 L338.7 354.4 L337.8 356.2 L336.9 358.0 L336.0 359.8 L335.1 361.5 L334.1 363.3 L333.2 365.1 L332.2 366.8 L331.2 368.6 L330.2 370.3 L329.2 372.0 L328.2 373.7 L327.1 375.4 L326.1 377.1 L325.0 378.8 L323.9 380.4 L322.8 382.1 L321.7 383.7 L320.6 385.3 L319.5 386.9 L318.3 388.5 L317.1 390.1 L315.9 391.6 L314.7 393.1 L313.4 394.6 L312.2 396.1 L310.9 397.6 L309.6 399.1 L308.3 400.5 L307.0 401.9 L305.6 403.3 L304.2 404.7 L302.8 406.0 L301.4 407.3 L299.9 408.6 L298.5 409.9 L297.0 411.2 L295.5 412.4 L293.9 413.6 L292.4 414.8 L290.8 416.0 L289.2 417.1 L287.6 418.2 L285.9 419.3 L284.2 420.4 L282.6 421.4 L280.9 422.4 L279.1 423.4 L277.4 424.4 L275.6 425.4 L273.9 426.4 L272.1 427.3 L270.3 428.3 L268.5 429.2 L266.7 430.1 L264.9 431.0 L263.1 431.8 L261.2 432.7 L259.4 433.6 L257.5 434.4 L255.7 435.2 L253.8 436.1 L251.9 436.9 L250.1 437.7 L248.2 438.5 L246.3 439.3 L244.4 440.1 L242.6 440.9 L240.7 441.7 L238.8 442.5 L237.0 443.3 L235.1 444.1 L233.2 444.9 L231.4 445.7 L229.5 446.4 L227.7 447.2 L225.8 448.0 L224.0 448.8 L222.2 449.6 L220.3 450.4 L218.5 451.2 L216.7 451.9 L214.8 452.7 L213.0 453.5 L211.2 454.3 L209.4 455.0 L207.5 455.8 L205.7 456.5 L203.9 457.3 L202.0 458.0 L200.2 458.7 L198.4 459.4 L196.5 460.2 L194.7 460.9 L192.9 461.6 L191.0 462.2 L189.2 462.9 L187.3 463.6 L185.4 464.2 L183.6 464.9 L181.7 465.5 L179.8 466.1 L178.0 466.7 L176.1 467.3 L174.2 467.9 L172.3 468.5 L170.4 469.0 L168.4 469.6 L166.5 470.1 L164.6 470.6 L162.6 471.1 L160.7 471.6 L158.7 472.0 L156.7 472.4 L154.7 472.9 L152.7 473.3 L150.7 473.6 L148.7 474.0 L148.7 474.0 L150.7 474.0 L152.7 474.0 L154.7 474.0 L156.8 474.0 L158.8 474.0 L160.8 474.0 L162.8 474.0 L164.8 474.0 L166.8 474.0 L168.8 473.9 L170.8 473.9 L172.8 473.9 L174.8 473.9 L176.8 473.8 L178.8 473.8 L180.8 473.8 L182.8 473.7 L184.8 473.7 L186.8 473.6 L188.8 473.6 L190.8 473.5 L192.8 473.5 L194.8 473.4 L196.8 473.3 L198.7 473.3 L200.7 473.2 L202.7 473.1 L204.7 473.0 L206.7 473.0 L208.7 472.9 L210.7 472.8 L212.6 472.7 L214.6 472.6 L216.6 472.5 L218.6 472.4 L220.6 472.3 L222.5 472.2 L224.5 472.1 L226.5 472.0 L228.5 471.9 L230.4 471.8 L232.4 471.7 L234.4 471.5 L236.4 471.4 L238.3 471.3 L240.3 471.2 L242.3 471.0 L244.3 470.9 L246.2 470.8 L248.2 470.6 L250.2 470.5 L252.2 470.3 L254.1 470.2 L256.1 470.0 L258.1 469.9 L260.0 469.7 L262.0 469.5 L264.0 469.4 L265.9 469.2 L267.9 469.0 L269.9 468.9 L271.9 468.7 L273.8 468.5 L275.8 468.3 L277.8 468.1 L279.7 467.9 L281.7 467.7 L283.7 467.5 L285.7 467.3 L287.6 467.1 L289.6 466.9 L291.6 466.7 L293.5 466.5 L295.5 466.3 L297.5 466.1 L299.5 465.9 L301.4 465.7 L303.4 465.4 L305.4 465.2 L307.4 465.0 L309.3 464.7 L311.3 464.5 L313.3 464.3 L315.3 464.0 L317.2 463.8 L319.2 463.5 L321.2 463.3 L323.2 463.0 L325.2 462.8 L327.2 462.5 L329.1 462.2 L331.1 462.0 L333.1 461.7 L335.1 461.4 L337.1 461.2 L339.1 460.9 L341.0 460.6 L343.0 460.3 L345.0 460.0 L347.0 459.7 L349.0 459.5 L351.0 459.2 L353.0 458.9 L355.0 458.6 L357.0 458.3 L359.0 457.9 L361.0 457.6 L363.0 457.3 L365.0 457.0 L367.0 456.7 L369.0 456.4 L371.0 456.0 L372.9 455.7 L374.9 455.3 L376.9 455.0 L378.9 454.6 L380.9 454.3 L382.9 453.9 L384.9 453.5 L386.9 453.2 L388.9 452.8 L390.9 452.4 L392.8 452.0 L394.8 451.6 L396.8 451.2 L398.8 450.7 L400.7 450.3 L402.7 449.9 L404.7 449.4 L406.6 449.0 L408.6 448.5 L410.5 448.1 L412.5 447.6 L414.4 447.1 L416.4 446.6 L418.3 446.1 L420.3 445.6 L422.2 445.1 L424.1 444.5 L426.0 444.0 L428.0 443.4 L429.9 442.9 L431.8 442.3 L433.7 441.7 L435.6 441.1 L437.5 440.5 L439.4 439.9 L441.2 439.2 L443.1 438.6 L445.0 437.9 L446.8 437.3 L448.7 436.6 L450.5 435.9 L452.4 435.2 L454.2 434.4 L456.0 433.7 L457.9 433.0 L459.7 432.2 L461.5 431.4 L463.3 430.6 L465.1 429.8 L466.8 429.0 L468.6 428.2 L470.4 427.3 L472.1 426.5 L473.9 425.6 L475.6 424.7 L477.4 423.8 L479.1 422.9 L480.8 421.9 L482.5 421.0 L484.2 420.0 L485.9 419.0 L487.5 418.0 L489.2 417.0 L490.8 415.9 L492.5 414.9 L494.1 413.8 L495.7 412.7 L497.4 411.6 L499.0 410.5 L500.5 409.3 L502.1 408.2 L503.7 407.0 L505.2 405.8 L506.8 404.5 L508.3 403.3 L509.8 402.0 L511.3 400.8 L512.8 399.5 L514.3 398.1 L515.8 396.8 L517.2 395.4 L518.7 394.1 L520.1 392.7 L521.5 391.2 L522.9 389.8 L524.3 388.4 L525.6 386.9 L527.0 385.4 L528.3 383.9 L529.6 382.4 L530.9 380.8 L532.1 379.3 L533.4 377.7 L534.6 376.1 L535.8 374.5 L537.0 372.9 L538.1 371.3 L539.3 369.6 L540.4 368.0 L541.5 366.3 L542.5 364.6 L543.6 362.9 L544.6 361.2 L545.5 359.4 L546.5 357.7 L547.4 355.9 L548.3 354.1 L549.2 352.3 L550.1 350.6 L550.9 348.7 L551.8 346.9 L552.6 345.1 L553.3 343.3 L554.1 341.4 L554.9 339.6 L555.6 337.7 L556.3 335.9 L557.1 334.0 L557.8 332.1 L558.5 330.2 L559.2 328.4 L559.9 326.5 L560.5 324.6 L561.2 322.7 L561.9 320.8 L562.6 318.9 L563.2 317.0 L563.9 315.1 L564.6 313.3 L565.3 311.4 L565.9 309.5 L566.6 307.6 L567.3 305.7 L568.0 303.9 L568.7 302.0 L569.5 300.1 L570.2 298.3 L570.9 296.4 L571.7 294.6 L572.5 292.8 L573.2 290.9 L574.0 289.1 L574.8 287.3 L575.6 285.5 L576.5 283.7 L577.3 281.9 L578.1 280.1 L579.0 278.3 L579.8 276.5 L580.7 274.7 L581.6 273.0 L582.5 271.2 L583.4 269.4 L584.3 267.7 L585.2 265.9 L586.1 264.1 L587.0 262.4 L588.0 260.7 L588.9 258.9 L589.9 257.2 L590.8 255.4 L591.8 253.7 L592.8 252.0 L593.8 250.3 L594.8 248.5 L595.7 246.8 L596.8 245.1 L597.8 243.4 L598.8 241.7 L599.8 240.0 L600.8 238.3 L601.9 236.6 L602.9 234.9 L603.9 233.2 L605.0 231.5 L606.0 229.8 L607.1 228.1 L608.2 226.4 L609.2 224.7 L610.3 223.0 L611.4 221.3 L612.5 219.6 L613.5 217.9 L614.6 216.3 L615.7 214.6 L616.8 212.9 L617.9 211.2 L619.0 209.5 L620.1 207.9 L621.2 206.2 L622.4 204.5 L623.5 202.8 L624.6 201.2 L625.7 199.5 L626.9 197.8 L628.0 196.2 L629.2 194.5 L630.3 192.9 L631.5 191.2 L632.6 189.6 L633.8 188.0 L635.0 186.3 L636.2 184.7 L637.4 183.1 L638.5 181.5 L639.7 179.9 L641.0 178.2 L642.2 176.6 L643.4 175.0 L644.6 173.5 L645.8 171.9 L647.1 170.3 L648.3 168.7 L649.6 167.2 L650.8 165.6 L652.1 164.1 L653.4 162.5 L654.7 161.0 L655.9 159.5 L657.2 157.9 L658.5 156.4 L659.9 154.9 L661.2 153.4 L662.5 152.0 L663.8 150.5 L665.2 149.0 L666.5 147.6 L667.9 146.1 L669.3 144.7 L670.6 143.2 L672.0 141.8 L673.4 140.4 L674.8 139.0 L676.2 137.6 L677.7 136.2 L679.1 134.9 L680.5 133.5 L682.0 132.2 L683.4 130.8 L684.9 129.5 L686.4 128.2 L687.9 126.9 L689.4 125.6 L690.9 124.4 L692.4 123.1 L693.9 121.9 L695.5 120.6 L697.0 119.4 L698.6 118.2 L700.1 117.0 L701.7 115.8 L703.3 114.7 L704.9 113.5 L706.5 112.4 L708.2 111.2 L709.8 110.1 L711.4 109.0 L713.1 108.0 L714.8 106.9 L716.5 105.9 L718.1 104.8 L719.9 103.8 L721.6 102.8 L723.3 101.8 L725.0 100.8 L726.8 99.9 L728.5 98.9 L730.3 98.0 L732.1 97.1 L733.8 96.2 L735.6 95.3 L737.4 94.4 L739.2 93.6 L741.1 92.8 L742.9 91.9 L744.7 91.1 L746.5 90.3 L748.4 89.5 L750.2 88.8 L752.1 88.0 L754.0 87.3 L755.8 86.5 L757.7 85.8 L759.6 85.1 L761.5 84.4 L763.4 83.8 L765.3 83.1 L767.2 82.5 L769.1 81.8 L771.0 81.2 L772.9 80.6 L774.8 80.0 L776.8 79.4 L778.7 78.9 L780.6 78.3 L782.5 77.8 L784.5 77.3 L786.4 76.8 L788.4 76.3 L790.3 75.8 L792.2 75.3 L794.2 74.8 L796.1 74.4 L798.1 74.0 L800.0 73.6 L802.0 73.1 L803.9 72.8 L805.9 72.4 L807.8 72.0 L809.8 71.6 L811.7 71.3 L813.7 71.0 L815.6 70.7 L817.6 70.3 L819.5 70.0 L821.5 69.8 L823.4 69.5" fill="none" stroke="#7ac500" stroke-width="6.7" stroke-linecap="round" stroke-linejoin="round"/>
<path d="M822.2 58.7 L820.2 58.8 L818.2 58.8 L816.2 58.9 L814.2 59.0 L812.2 59.0 L810.2 59.1 L808.2 59.2 L806.2 59.2 L804.2 59.3 L802.2 59.4 L800.2 59.4 L798.2 59.5 L796.2 59.6 L794.2 59.6 L792.2 59.7 L790.2 59.8 L788.2 59.8 L786.2 59.9 L784.2 60.0 L782.2 60.1 L780.2 60.1 L778.2 60.2 L776.2 60.3 L774.2 60.4 L772.2 60.4 L770.2 60.5 L768.2 60.6 L766.2 60.7 L764.2 60.7 L762.2 60.8 L760.2 60.9 L758.2 61.0 L756.2 61.1 L754.2 61.2 L752.3 61.3 L750.3 61.3 L748.3 61.4 L746.3 61.5 L744.3 61.6 L742.3 61.7 L740.3 61.8 L738.3 61.9 L736.3 62.0 L734.3 62.1 L732.3 62.2 L730.3 62.3 L728.4 62.4 L726.4 62.5 L724.4 62.6 L722.4 62.7 L720.4 62.9 L718.4 63.0 L716.4 63.1 L714.4 63.2 L712.4 63.3 L710.5 63.5 L708.5 63.6 L706.5 63.7 L704.5 63.8 L702.5 64.0 L700.5 64.1 L698.5 64.2 L696.5 64.4 L694.6 64.5 L692.6 64.7 L690.6 64.8 L688.6 65.0 L686.6 65.1 L684.6 65.3 L682.7 65.4 L680.7 65.6 L678.7 65.8 L676.7 65.9 L674.7 66.1 L672.7 66.3 L670.8 66.5 L668.8 66.6 L666.8 66.8 L664.8 67.0 L662.8 67.2 L660.9 67.4 L658.9 67.6 L656.9 67.8 L654.9 68.0 L653.0 68.2 L651.0 68.4 L649.0 68.6 L647.0 68.8 L645.0 69.0 L643.1 69.3 L641.1 69.5 L639.1 69.7 L637.1 69.9 L635.2 70.2 L633.2 70.4 L631.2 70.7 L629.2 70.9 L627.3 71.2 L625.3 71.4 L623.3 71.7 L621.3 71.9 L619.4 72.2 L617.4 72.5 L615.4 72.8 L613.5 73.0 L611.5 73.3 L609.5 73.6 L607.5 73.9 L605.6 74.2 L603.6 74.5 L601.6 74.8 L599.7 75.1 L597.7 75.4 L595.7 75.8 L593.8 76.1 L591.8 76.4 L589.8 76.8 L587.9 77.1 L585.9 77.4 L583.9 77.8 L582.0 78.1 L580.0 78.5 L578.0 78.9 L576.1 79.2 L574.1 79.6 L572.1 80.0 L570.2 80.4 L568.2 80.7 L566.2 81.1 L564.3 81.5 L562.3 81.9 L560.4 82.4 L558.4 82.8 L556.4 83.2 L554.5 83.6 L552.5 84.0 L550.6 84.5 L548.6 84.9 L546.6 85.4 L544.7 85.8 L542.7 86.3 L540.8 86.8 L538.8 87.2 L536.9 87.7 L534.9 88.2 L533.0 88.7 L531.0 89.2 L529.1 89.7 L527.1 90.2 L525.2 90.8 L523.2 91.3 L521.3 91.8 L519.3 92.4 L517.4 92.9 L515.4 93.5 L513.5 94.1 L511.5 94.7 L509.6 95.3 L507.7 95.9 L505.7 96.5 L503.8 97.1 L501.9 97.7 L500.0 98.4 L498.1 99.1 L496.2 99.7 L494.3 100.4 L492.4 101.2 L490.6 101.9 L488.7 102.7 L486.9 103.4 L485.0 104.2 L483.2 105.0 L481.4 105.9 L479.6 106.7 L477.9 107.6 L476.1 108.5 L474.4 109.5 L472.7 110.4 L471.0 111.4 L469.3 112.4 L467.7 113.5 L466.0 114.5 L464.4 115.6 L462.8 116.7 L461.3 117.9 L459.7 119.1 L458.2 120.3 L456.7 121.5 L455.2 122.7 L453.7 124.0 L452.3 125.3 L450.9 126.6 L449.5 128.0 L448.1 129.3 L446.7 130.7 L445.3 132.1 L444.0 133.5 L442.7 135.0 L441.4 136.4 L440.1 137.9 L438.8 139.4 L437.6 140.9 L436.4 142.5 L435.2 144.0 L434.0 145.6 L432.8 147.2 L431.6 148.8 L430.5 150.4 L429.3 152.0 L428.2 153.7 L427.1 155.3 L426.1 157.0 L425.0 158.7 L423.9 160.4 L422.9 162.1 L421.9 163.8 L420.9 165.6 L419.9 167.3 L418.9 169.1 L417.9 170.8 L417.0 172.6 L416.1 174.4 L415.1 176.1 L414.2 177.9 L413.3 179.7 L412.5 181.5 L411.6 183.4 L410.7 185.2 L409.9 187.0 L409.1 188.8 L408.2 190.7 L407.4 192.5 L406.6 194.3 L405.9 196.2 L405.1 198.0 L404.3 199.9 L403.6 201.7 L402.8 203.6 L402.1 205.4 L401.4 207.3 L400.7 209.2 L400.0 211.0 L399.3 212.9 L398.6 214.8 L397.9 216.7 L397.3 218.5 L396.6 220.4 L395.9 222.3 L395.3 224.2 L394.7 226.1 L394.0 228.0 L393.4 229.9 L392.8 231.8 L392.2 233.7 L391.5 235.6 L390.9 237.5 L390.3 239.4 L389.7 241.3 L389.1 243.2 L388.6 245.1 L388.0 247.0 L387.4 248.9 L386.8 250.8 L386.2 252.7 L385.7 254.6 L385.1 256.5 L384.5 258.5 L383.9 260.4 L383.4 262.3 L382.8 264.2 L382.2 266.1 L381.7 268.0 L381.1 270.0 L380.5 271.9 L380.0 273.8 L379.4 275.7 L378.8 277.6 L378.3 279.6 L377.7 281.5 L377.1 283.4 L376.5 285.3 L375.9 287.2 L375.4 289.1 L374.8 291.1 L374.2 293.0 L373.6 294.9 L373.0 296.8 L372.4 298.7 L371.8 300.6 L371.2 302.5 L370.5 304.4 L369.9 306.3 L369.3 308.2 L368.6 310.2 L368.0 312.1 L367.4 314.0 L366.7 315.9 L366.0 317.8 L365.4 319.6 L364.7 321.5 L364.0 323.4 L363.3 325.3 L362.6 327.2 L361.9 329.1 L361.2 331.0 L360.4 332.8 L359.7 334.7 L358.9 336.6 L358.2 338.5 L357.4 340.3 L356.6 342.2 L355.8 344.0 L355.0 345.9 L354.2 347.7 L353.3 349.6 L352.5 351.4 L351.6 353.2 L350.8 355.1 L349.9 356.9 L349.0 358.7 L348.1 360.5 L347.2 362.3 L346.3 364.1 L345.3 365.8 L344.4 367.6 L343.4 369.3 L342.5 371.1 L341.5 372.8 L340.5 374.5 L339.4 376.3 L338.4 378.0 L337.4 379.6 L336.3 381.3 L335.2 383.0 L334.1 384.6 L333.0 386.3 L331.9 387.9 L330.8 389.5 L329.6 391.1 L328.5 392.7 L327.3 394.3 L326.1 395.8 L324.9 397.4 L323.7 398.9 L322.4 400.4 L321.2 401.9 L319.9 403.4 L318.6 404.8 L317.3 406.3 L316.0 407.7 L314.6 409.1 L313.2 410.5 L311.9 411.8 L310.5 413.2 L309.1 414.5 L307.6 415.8 L306.2 417.1 L304.7 418.4 L303.2 419.6 L301.7 420.8 L300.2 422.0 L298.6 423.2 L297.1 424.4 L295.5 425.5 L293.9 426.6 L292.3 427.7 L290.6 428.8 L289.0 429.9 L287.3 430.9 L285.6 431.9 L283.9 432.9 L282.2 433.9 L280.5 434.9 L278.8 435.8 L277.0 436.7 L275.2 437.7 L273.5 438.6 L271.7 439.5 L269.9 440.4 L268.1 441.2 L266.3 442.1 L264.5 442.9 L262.6 443.8 L260.8 444.6 L259.0 445.4 L257.1 446.2 L255.3 447.0 L253.4 447.8 L251.6 448.6 L249.7 449.4 L247.8 450.1 L246.0 450.9 L244.1 451.7 L242.3 452.4 L240.4 453.2 L238.5 453.9 L236.7 454.7 L234.8 455.4 L232.9 456.2 L231.1 456.9 L229.2 457.7 L227.3 458.4 L225.5 459.1 L223.6 459.9 L221.8 460.6 L219.9 461.3 L218.0 462.0 L216.2 462.8 L214.3 463.5 L212.5 464.2 L210.6 464.9 L208.7 465.6 L206.9 466.3 L205.0 467.0 L203.1 467.6 L201.3 468.3 L199.4 469.0 L197.5 469.7 L195.6 470.3 L193.8 471.0 L191.9 471.6 L190.0 472.3 L188.1 472.9 L186.3 473.6 L184.4 474.2 L182.5 474.8 L180.6 475.4 L178.7 476.0 L176.8 476.6 L174.9 477.2 L173.0 477.8 L171.1 478.4 L169.2 479.0 L167.3 479.5 L165.4 480.1 L163.5 480.6 L161.6 481.2 L159.7 481.7 L157.8 482.2 L155.8 482.7 L153.9 483.2 L152.0 483.7 L150.0 484.2 L148.1 484.7 L148.1 484.7 L150.1 484.6 L152.1 484.4 L154.0 484.3 L156.0 484.2 L158.0 484.0 L160.0 483.9 L162.0 483.8 L164.0 483.7 L166.0 483.5 L168.0 483.4 L170.0 483.3 L171.9 483.2 L173.9 483.1 L175.9 483.0 L177.9 482.8 L179.9 482.7 L181.9 482.6 L183.9 482.5 L185.9 482.4 L187.9 482.3 L189.9 482.2 L191.9 482.1 L193.9 482.0 L195.9 481.9 L197.9 481.7 L199.9 481.6 L201.9 481.5 L203.9 481.4 L205.9 481.3 L207.9 481.2 L209.9 481.1 L211.9 481.0 L213.9 480.9 L215.9 480.8 L217.9 480.7 L219.9 480.5 L221.9 480.4 L223.9 480.3 L225.9 480.2 L227.9 480.1 L229.9 480.0 L231.9 479.8 L233.9 479.7 L235.9 479.6 L237.9 479.5 L239.9 479.3 L241.9 479.2 L243.9 479.1 L245.9 478.9 L247.9 478.8 L249.9 478.7 L251.9 478.5 L253.9 478.4 L255.9 478.2 L257.9 478.1 L259.8 477.9 L261.8 477.8 L263.8 477.6 L265.8 477.4 L267.8 477.3 L269.8 477.1 L271.8 476.9 L273.8 476.8 L275.7 476.6 L277.7 476.4 L279.7 476.2 L281.7 476.0 L283.7 475.9 L285.7 475.7 L287.6 475.5 L289.6 475.3 L291.6 475.1 L293.6 474.9 L295.6 474.7 L297.5 474.5 L299.5 474.3 L301.5 474.1 L303.5 473.8 L305.4 473.6 L307.4 473.4 L309.4 473.2 L311.4 473.0 L313.4 472.7 L315.3 472.5 L317.3 472.3 L319.3 472.0 L321.3 471.8 L323.2 471.5 L325.2 471.3 L327.2 471.0 L329.2 470.8 L331.1 470.5 L333.1 470.2 L335.1 470.0 L337.1 469.7 L339.0 469.4 L341.0 469.1 L343.0 468.9 L344.9 468.6 L346.9 468.3 L348.9 468.0 L350.9 467.7 L352.8 467.4 L354.8 467.1 L356.8 466.8 L358.7 466.5 L360.7 466.2 L362.7 465.9 L364.7 465.5 L366.6 465.2 L368.6 464.9 L370.6 464.5 L372.5 464.2 L374.5 463.8 L376.5 463.5 L378.4 463.1 L380.4 462.7 L382.4 462.4 L384.3 462.0 L386.3 461.6 L388.3 461.2 L390.2 460.8 L392.2 460.4 L394.2 460.0 L396.1 459.6 L398.1 459.1 L400.0 458.7 L402.0 458.3 L404.0 457.8 L405.9 457.3 L407.9 456.9 L409.8 456.4 L411.8 455.9 L413.7 455.4 L415.7 454.9 L417.6 454.4 L419.6 453.9 L421.5 453.4 L423.4 452.8 L425.4 452.3 L427.3 451.7 L429.3 451.1 L431.2 450.6 L433.1 450.0 L435.1 449.4 L437.0 448.8 L438.9 448.1 L440.9 447.5 L442.8 446.9 L444.7 446.2 L446.6 445.5 L448.6 444.9 L450.5 444.2 L452.4 443.5 L454.3 442.7 L456.2 442.0 L458.1 441.3 L460.0 440.5 L461.8 439.7 L463.7 438.9 L465.6 438.1 L467.4 437.3 L469.2 436.5 L471.1 435.6 L472.9 434.7 L474.7 433.9 L476.4 433.0 L478.2 432.0 L480.0 431.1 L481.7 430.1 L483.4 429.2 L485.1 428.2 L486.8 427.1 L488.5 426.1 L490.2 425.1 L491.8 424.0 L493.4 422.9 L495.0 421.8 L496.6 420.6 L498.1 419.5 L499.6 418.3 L501.2 417.1 L502.6 415.8 L504.1 414.6 L505.5 413.3 L506.9 412.0 L508.3 410.7 L509.7 409.3 L511.0 408.0 L512.3 406.6 L513.6 405.2 L514.8 403.7 L516.0 402.2 L517.2 400.8 L518.4 399.2 L519.6 397.7 L520.7 396.2 L521.8 394.6 L522.9 393.0 L524.0 391.4 L525.0 389.8 L526.0 388.1 L527.0 386.5 L528.0 384.8 L529.0 383.1 L529.9 381.4 L530.9 379.7 L531.8 377.9 L532.7 376.2 L533.6 374.4 L534.4 372.6 L535.3 370.8 L536.1 369.0 L537.0 367.2 L537.8 365.4 L538.6 363.5 L539.4 361.7 L540.1 359.8 L540.9 357.9 L541.7 356.1 L542.4 354.2 L543.2 352.3 L543.9 350.4 L544.6 348.5 L545.3 346.6 L546.0 344.6 L546.7 342.7 L547.4 340.8 L548.1 338.9 L548.8 336.9 L549.5 335.0 L550.2 333.1 L550.9 331.1 L551.5 329.2 L552.2 327.2 L552.9 325.3 L553.5 323.3 L554.2 321.4 L554.9 319.5 L555.6 317.5 L556.2 315.6 L556.9 313.6 L557.6 311.7 L558.3 309.8 L558.9 307.9 L559.6 305.9 L560.3 304.0 L561.0 302.1 L561.7 300.2 L562.4 298.3 L563.2 296.5 L563.9 294.6 L564.6 292.7 L565.3 290.8 L566.1 289.0 L566.8 287.1 L567.6 285.3 L568.3 283.4 L569.1 281.6 L569.9 279.8 L570.7 277.9 L571.5 276.1 L572.2 274.3 L573.0 272.5 L573.9 270.7 L574.7 268.9 L575.5 267.1 L576.3 265.3 L577.1 263.5 L578.0 261.7 L578.8 260.0 L579.7 258.2 L580.5 256.4 L581.4 254.6 L582.3 252.9 L583.1 251.1 L584.0 249.4 L584.9 247.6 L585.8 245.9 L586.7 244.1 L587.6 242.4 L588.5 240.6 L589.4 238.9 L590.3 237.1 L591.3 235.4 L592.2 233.6 L593.2 231.9 L594.1 230.2 L595.1 228.4 L596.0 226.7 L597.0 225.0 L598.0 223.2 L598.9 221.5 L599.9 219.8 L600.9 218.0 L601.9 216.3 L602.9 214.6 L603.9 212.8 L604.9 211.1 L605.9 209.4 L607.0 207.7 L608.0 205.9 L609.0 204.2 L610.1 202.5 L611.2 200.8 L612.2 199.1 L613.3 197.4 L614.4 195.7 L615.4 193.9 L616.5 192.2 L617.6 190.6 L618.7 188.9 L619.8 187.2 L621.0 185.5 L622.1 183.8 L623.2 182.1 L624.3 180.5 L625.5 178.8 L626.7 177.1 L627.8 175.5 L629.0 173.8 L630.2 172.2 L631.4 170.6 L632.5 168.9 L633.8 167.3 L635.0 165.7 L636.2 164.1 L637.4 162.5 L638.6 160.9 L639.9 159.3 L641.1 157.7 L642.4 156.2 L643.7 154.6 L645.0 153.0 L646.2 151.5 L647.5 150.0 L648.8 148.4 L650.2 146.9 L651.5 145.4 L652.8 143.9 L654.2 142.4 L655.5 141.0 L656.9 139.5 L658.2 138.0 L659.6 136.6 L661.0 135.2 L662.4 133.8 L663.8 132.3 L665.2 130.9 L666.7 129.6 L668.1 128.2 L669.6 126.8 L671.0 125.5 L672.5 124.2 L674.0 122.8 L675.5 121.5 L677.0 120.2 L678.5 119.0 L680.0 117.7 L681.5 116.4 L683.1 115.2 L684.6 114.0 L686.2 112.8 L687.8 111.6 L689.3 110.4 L690.9 109.2 L692.5 108.1 L694.2 107.0 L695.8 105.9 L697.4 104.8 L699.1 103.7 L700.7 102.6 L702.4 101.6 L704.1 100.5 L705.8 99.5 L707.5 98.5 L709.2 97.5 L710.9 96.6 L712.7 95.6 L714.4 94.7 L716.2 93.7 L717.9 92.8 L719.7 91.9 L721.5 91.0 L723.3 90.2 L725.0 89.3 L726.8 88.4 L728.7 87.6 L730.5 86.8 L732.3 86.0 L734.1 85.2 L736.0 84.4 L737.8 83.6 L739.7 82.9 L741.5 82.1 L743.4 81.4 L745.2 80.7 L747.1 79.9 L749.0 79.2 L750.9 78.6 L752.8 77.9 L754.6 77.2 L756.5 76.5 L758.4 75.9 L760.3 75.2 L762.3 74.6 L764.2 74.0 L766.1 73.4 L768.0 72.8 L769.9 72.2 L771.9 71.6 L773.8 71.0 L775.7 70.4 L777.6 69.9 L779.6 69.3 L781.5 68.8 L783.4 68.2 L785.4 67.7 L787.3 67.2 L789.3 66.6 L791.2 66.1 L793.1 65.6 L795.1 65.1 L797.0 64.6 L799.0 64.2 L800.9 63.7 L802.9 63.2 L804.8 62.7 L806.7 62.3 L808.7 61.8 L810.6 61.3 L812.6 60.9 L814.5 60.4 L816.4 60.0 L818.3 59.6 L820.3 59.1 L822.2 58.7" fill="none" stroke="#324ea8" stroke-width="6.7" stroke-linecap="round" stroke-linejoin="round"/>
<line x1="155.3" y1="85.4" x2="212.4" y2="85.4" stroke="#e0301e" stroke-width="6.8" stroke-linecap="round"/>
<line x1="155.3" y1="122.65" x2="212.4" y2="122.65" stroke="#f27c20" stroke-width="6.8" stroke-linecap="round"/>
<line x1="155.3" y1="159.9" x2="212.4" y2="159.9" stroke="#7ac500" stroke-width="6.8" stroke-linecap="round"/>
<line x1="155.3" y1="197.15" x2="212.4" y2="197.15" stroke="#324ea8" stroke-width="6.8" stroke-linecap="round"/>
<g fill="#000">
<text transform="translate(56.47,508.90) scale(0.95,1)" font-size="28.8">-0.6</text>
<text transform="translate(55.58,432.10) scale(0.95,1)" font-size="28.8">-0.4</text>
<text transform="translate(56.55,355.30) scale(0.95,1)" font-size="28.8">-0.2</text>
<text transform="translate(65.74,278.50) scale(0.95,1)" font-size="28.8">0.0</text>
<text transform="translate(65.72,201.70) scale(0.95,1)" font-size="28.8">0.2</text>
<text transform="translate(64.74,124.90) scale(0.95,1)" font-size="28.8">0.4</text>
<text transform="translate(65.66,48.10) scale(0.95,1)" font-size="28.8">0.6</text>
<g transform="translate(162.09,578.80) scale(0.95,1)"><text font-size="28.8">-10</text><rect x="9.86" y="-3.92" width="6.45" height="5.12" fill="#fff"/><rect x="20.26" y="-3.92" width="5.39" height="5.12" fill="#fff"/></g>
<text transform="translate(320.10,578.80) scale(0.95,1)" font-size="28.8">-5</text>
<text transform="translate(475.39,578.80) scale(0.95,1)" font-size="28.8">0</text>
<text transform="translate(625.84,578.80) scale(0.95,1)" font-size="28.8">5</text>
<g transform="translate(768.62,578.80) scale(0.95,1)"><text font-size="28.8">10</text><rect x="0.27" y="-3.92" width="6.45" height="5.12" fill="#fff"/><rect x="10.67" y="-3.92" width="5.39" height="5.12" fill="#fff"/></g>
<text transform="translate(158.28,39.70) scale(0.965,1)" font-size="30.8">323 K</text>
<text transform="translate(219.56,94.70) scale(0.965,1)" font-size="30.8">200 Hz</text>
<g transform="translate(219.56,131.95) scale(0.965,1)"><text font-size="30.8">100 Hz</text><rect x="0.29" y="-4.20" width="6.90" height="5.40" fill="#fff"/><rect x="11.41" y="-4.20" width="5.76" height="5.40" fill="#fff"/></g>
<text transform="translate(219.56,169.20) scale(0.965,1)" font-size="30.8">50 Hz</text>
<text transform="translate(219.56,206.45) scale(0.965,1)" font-size="30.8">20 Hz</text>
<text transform="translate(317.49,621.30)" font-size="32">Electric field (kV cm</text>
<g transform="translate(620.75,607.20)"><text font-size="19">-1</text><rect x="6.50" y="-2.59" width="4.26" height="3.79" fill="#fff"/><rect x="13.37" y="-2.59" width="3.55" height="3.79" fill="#fff"/></g>
<text transform="translate(638.61,621.30)" font-size="32">)</text>
<g transform="translate(28.6,442) rotate(-90)">
<text transform="translate(-2.11,0.00)" font-size="32">Polarization (</text>
<text transform="translate(201.73,0.00) scale(1.15,1)" font-size="30" font-family="Liberation Serif" font-weight="normal">&#956;</text>
<text transform="translate(219.86,0.00)" font-size="32">C cm</text>
<text transform="translate(299.35,-13.40)" font-size="19">-2</text>
<text transform="translate(317.51,0.00)" font-size="32">)</text>
</g>
</g>
</svg>
</body></html>
